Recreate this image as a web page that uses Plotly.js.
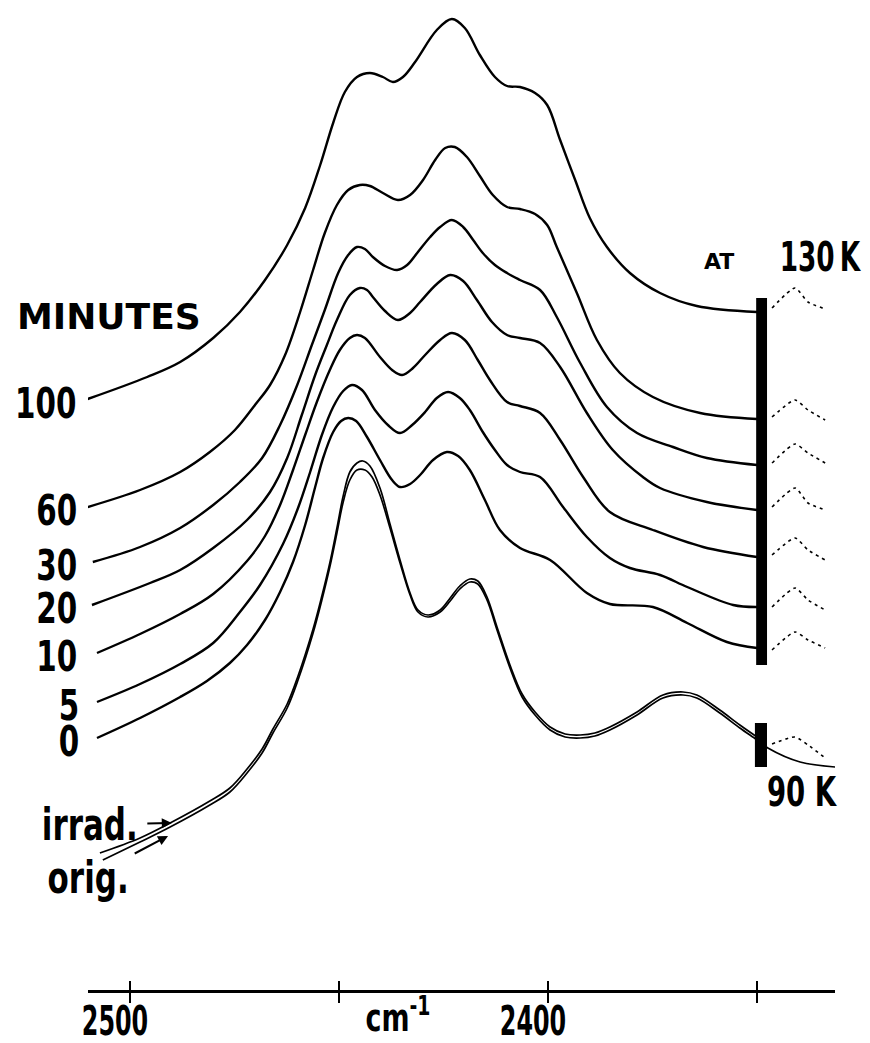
<!DOCTYPE html>
<html>
<head>
<meta charset="utf-8">
<script src="https://cdn.plot.ly/plotly-3.0.1.min.js"></script>
<style>html,body{margin:0;padding:0;background:#fff}</style>
</head>
<body>
<div id="chart" style="width:870px;height:1043px"></div>
<script>
// IR band of the irradiated sample, stacked spectra (cm^-1 vs. offset absorbance)
const wn100 = [2510.8, 2495.9, 2488.0, 2480.1, 2473.7, 2467.7, 2462.4, 2458.1, 2454.5, 2451.4, 2448.6, 2445.7, 2442.6, 2439.5, 2437.1, 2434.7, 2431.8, 2426.6, 2423.0, 2419.9, 2416.3, 2412.7, 2409.8, 2406.7, 2403.1, 2400.2, 2397.1, 2393.5, 2390.0, 2385.9, 2380.4, 2373.2, 2364.4, 2350.0];
const ab100 = [5.90, 6.13, 6.28, 6.52, 6.78, 7.10, 7.45, 7.82, 8.25, 8.67, 8.98, 9.13, 9.17, 9.13, 9.08, 9.13, 9.28, 9.60, 9.71, 9.62, 9.35, 9.13, 9.04, 9.03, 8.97, 8.85, 8.50, 8.10, 7.72, 7.43, 7.17, 6.97, 6.84, 6.78];

const wn60 = [2510.1, 2497.6, 2488.0, 2480.9, 2474.9, 2470.1, 2466.5, 2462.9, 2459.3, 2456.2, 2453.4, 2450.5, 2447.8, 2445.0, 2442.6, 2439.5, 2435.9, 2433.0, 2429.9, 2427.0, 2424.6, 2422.3, 2419.4, 2416.3, 2413.2, 2409.8, 2406.7, 2403.1, 2400.2, 2397.9, 2393.1, 2388.3, 2382.8, 2374.9, 2363.6, 2350.0];
const ab60 = [4.83, 5.00, 5.18, 5.38, 5.60, 5.85, 6.05, 6.35, 6.78, 7.20, 7.57, 7.85, 8.00, 8.05, 8.04, 7.97, 7.90, 7.95, 8.10, 8.30, 8.42, 8.43, 8.33, 8.14, 7.95, 7.83, 7.81, 7.76, 7.65, 7.43, 6.97, 6.50, 6.17, 5.93, 5.77, 5.71];

const wn30 = [2508.9, 2497.6, 2488.0, 2480.1, 2473.7, 2468.4, 2464.1, 2460.0, 2456.5, 2453.4, 2450.2, 2447.8, 2445.7, 2443.8, 2441.9, 2439.0, 2436.1, 2433.7, 2431.3, 2428.2, 2425.8, 2423.0, 2420.3, 2417.9, 2415.6, 2412.7, 2409.8, 2406.7, 2401.9, 2397.9, 2392.3, 2385.9, 2378.7, 2370.1, 2362.0, 2350.0];
const ab30 = [4.28, 4.43, 4.62, 4.85, 5.08, 5.32, 5.65, 6.05, 6.45, 6.80, 7.17, 7.35, 7.43, 7.41, 7.33, 7.24, 7.20, 7.25, 7.37, 7.53, 7.63, 7.70, 7.63, 7.50, 7.37, 7.25, 7.17, 7.10, 7.00, 6.73, 6.27, 5.83, 5.57, 5.43, 5.32, 5.25];

const wn20 = [2509.1, 2495.2, 2488.0, 2480.1, 2472.0, 2466.5, 2462.4, 2458.9, 2455.7, 2452.9, 2450.5, 2447.4, 2445.0, 2443.3, 2441.9, 2439.0, 2435.9, 2433.0, 2430.6, 2426.6, 2423.4, 2420.3, 2417.0, 2413.4, 2409.8, 2406.7, 2401.9, 2397.1, 2390.7, 2384.5, 2377.3, 2373.2, 2362.0, 2350.0];
const ab20 = [3.85, 4.07, 4.20, 4.42, 4.70, 4.98, 5.32, 5.75, 6.15, 6.45, 6.70, 6.95, 7.02, 7.00, 6.93, 6.79, 6.70, 6.77, 6.88, 7.06, 7.15, 7.09, 6.90, 6.68, 6.55, 6.52, 6.47, 6.23, 5.77, 5.40, 5.13, 5.02, 4.88, 4.80];

const wn10 = [2507.9, 2497.6, 2488.0, 2480.1, 2472.0, 2467.7, 2464.1, 2461.0, 2458.1, 2455.3, 2452.2, 2449.8, 2447.4, 2445.7, 2443.8, 2440.2, 2437.3, 2434.9, 2432.3, 2429.4, 2425.8, 2423.0, 2419.9, 2416.8, 2413.9, 2409.8, 2406.7, 2401.9, 2397.1, 2391.6, 2385.2, 2374.9, 2362.9, 2350.0];
const ab10 = [3.37, 3.56, 3.76, 3.96, 4.29, 4.54, 4.85, 5.20, 5.55, 5.88, 6.20, 6.40, 6.52, 6.55, 6.52, 6.33, 6.20, 6.15, 6.22, 6.35, 6.50, 6.57, 6.50, 6.30, 6.10, 5.88, 5.84, 5.77, 5.50, 5.13, 4.78, 4.60, 4.43, 4.33];

const wn5 = [2507.9, 2497.6, 2488.0, 2480.1, 2473.7, 2468.9, 2463.4, 2459.8, 2456.9, 2454.1, 2451.4, 2449.0, 2446.9, 2444.5, 2441.4, 2438.3, 2435.4, 2432.5, 2429.4, 2426.6, 2423.9, 2421.1, 2418.7, 2415.6, 2412.7, 2409.8, 2406.7, 2401.9, 2396.4, 2390.7, 2385.2, 2380.4, 2373.2, 2366.7, 2355.7, 2350.0];
const ab5 = [2.88, 3.06, 3.26, 3.47, 3.78, 4.05, 4.46, 4.82, 5.18, 5.55, 5.83, 5.99, 6.05, 6.00, 5.80, 5.65, 5.57, 5.65, 5.78, 5.92, 5.98, 5.92, 5.80, 5.58, 5.40, 5.25, 5.18, 5.13, 4.83, 4.53, 4.32, 4.22, 4.15, 4.03, 3.85, 3.83];

const wn0 = [2507.9, 2497.6, 2488.0, 2481.6, 2476.1, 2472.0, 2467.7, 2464.1, 2461.0, 2458.1, 2455.7, 2453.8, 2451.4, 2449.5, 2447.8, 2445.9, 2443.3, 2440.2, 2437.3, 2435.4, 2433.0, 2430.6, 2427.5, 2424.2, 2421.5, 2418.7, 2415.1, 2411.5, 2406.7, 2399.5, 2390.7, 2385.2, 2374.9, 2366.7, 2357.2, 2350.0];
const ab0 = [2.52, 2.72, 2.93, 3.09, 3.27, 3.45, 3.70, 3.98, 4.28, 4.65, 5.03, 5.32, 5.58, 5.69, 5.72, 5.69, 5.53, 5.30, 5.10, 5.03, 5.06, 5.15, 5.30, 5.38, 5.34, 5.20, 4.90, 4.60, 4.42, 4.30, 3.97, 3.86, 3.83, 3.67, 3.48, 3.42];

// 90 K spectra: original sample and after irradiation
const wnOrig = [2506.5, 2497.6, 2490.4, 2480.9, 2476.1, 2472.0, 2468.4, 2465.8, 2462.4, 2459.8, 2456.2, 2454.1, 2452.2, 2450.5, 2449.0, 2447.4, 2445.7, 2443.8, 2442.1, 2440.2, 2437.8, 2435.4, 2433.0, 2431.1, 2428.7, 2425.8, 2423.4, 2421.1, 2418.7, 2416.8, 2414.6, 2412.2, 2409.1, 2406.2, 2403.1, 2399.5, 2395.9, 2392.3, 2388.8, 2385.2, 2378.7, 2372.5, 2367.7, 2364.4, 2358.9, 2354.1, 2350.0, 2347.4, 2339.7, 2331.3];
const abOrig = [1.30, 1.48, 1.63, 1.85, 1.98, 2.17, 2.37, 2.57, 2.82, 3.10, 3.57, 3.90, 4.23, 4.57, 4.88, 5.10, 5.20, 5.20, 5.13, 4.95, 4.62, 4.27, 3.95, 3.78, 3.73, 3.78, 3.89, 4.01, 4.08, 4.06, 3.90, 3.60, 3.22, 2.93, 2.75, 2.60, 2.53, 2.52, 2.54, 2.60, 2.75, 2.92, 2.95, 2.92, 2.77, 2.62, 2.50, 2.42, 2.28, 2.23];

const wnIrrad = [2507.2, 2497.6, 2490.4, 2480.9, 2476.1, 2472.0, 2468.4, 2465.8, 2462.4, 2459.8, 2456.2, 2454.1, 2452.2, 2450.5, 2449.0, 2447.4, 2445.7, 2444.3, 2442.6, 2440.2, 2437.8, 2435.4, 2433.0, 2431.1, 2428.7, 2425.8, 2423.4, 2421.1, 2418.7, 2416.8, 2414.6, 2412.2, 2409.1, 2406.2, 2403.1, 2399.5, 2395.9, 2392.3, 2388.8, 2385.2, 2378.7, 2372.5, 2367.7, 2364.4, 2358.9, 2354.1, 2350.0];
const abIrrad = [1.37, 1.52, 1.67, 1.89, 2.02, 2.21, 2.41, 2.61, 2.86, 3.14, 3.61, 3.94, 4.27, 4.62, 4.94, 5.18, 5.27, 5.29, 5.24, 5.02, 4.66, 4.30, 3.97, 3.80, 3.75, 3.80, 3.92, 4.04, 4.11, 4.09, 3.93, 3.63, 3.25, 2.96, 2.78, 2.63, 2.56, 2.55, 2.57, 2.63, 2.78, 2.95, 2.98, 2.95, 2.80, 2.65, 2.53];

// dashed continuations beyond the chart-break markers
const tailWn = [2346.4, 2340.9, 2337.8, 2333.7];
const tail100 = [6.82, 7.02, 6.88, 6.81];
const tail60 = [5.73, 5.90, 5.80, 5.70];
const tail30 = [5.27, 5.46, 5.37, 5.27];
const tail20 = [4.83, 5.02, 4.87, 4.80];
const tail10 = [4.35, 4.52, 4.40, 4.30];
const tail5 = [3.83, 4.02, 3.90, 3.80];
const tail0 = [3.40, 3.58, 3.50, 3.42];
const tail90K = [2.46, 2.53, 2.45, 2.32];

// chart-break markers (cm^-1 span, absorbance span)
const break130Wn = [2350.2, 2347.6];
const break130Ab = [3.25, 6.92];
const break90Wn = [2350.5, 2347.6];
const break90Ab = [2.23, 2.67];

const minuteLabels = ['100', '60', '30', '20', '10', '5', '0'];
const majorTicks = [2500, 2400];
const majorText = ['2500', '2400'];
const minorTicks = [2450, 2350];
const allTicks = [2500, 2450, 2400, 2350];

const NARROW = '"DejaVu Sans Condensed", "Liberation Sans Narrow", "Arial Narrow", sans-serif';
const WIDE = '"DejaVu Sans", "Liberation Sans", sans-serif';

const spectra = [
  [wn100, ab100, tail100], [wn60, ab60, tail60], [wn30, ab30, tail30],
  [wn20, ab20, tail20], [wn10, ab10, tail10], [wn5, ab5, tail5], [wn0, ab0, tail0]
];

const solid = w => ({color: '#000', width: w, shape: 'spline', smoothing: 1});
const dashed = {color: '#000', width: 1.6, dash: '3px,4px', shape: 'spline', smoothing: 0.6};

const traces = [];
spectra.forEach(([wn, ab, tail]) => {
  traces.push({x: wn, y: ab, mode: 'lines', line: solid(2.4), hoverinfo: 'skip'});
  traces.push({x: tailWn, y: tail, mode: 'lines', line: dashed, hoverinfo: 'skip'});
});
traces.push({x: wnOrig, y: abOrig, mode: 'lines', line: solid(1.7), hoverinfo: 'skip'});
traces.push({x: wnIrrad, y: abIrrad, mode: 'lines', line: solid(1.7), hoverinfo: 'skip'});
traces.push({x: tailWn, y: tail90K, mode: 'lines', line: dashed, hoverinfo: 'skip'});
// carries the downward half of the tick marks
traces.push({x: [allTicks[0]], y: [0], xaxis: 'x2', mode: 'markers', marker: {opacity: 0}, hoverinfo: 'skip'});

// annotation index -> horizontal/vertical lettering scale
const narrowScale = new Map();
const annotations = [];
const label = (opts, scale) => {
  if (scale) narrowScale.set(annotations.length, scale);
  annotations.push(Object.assign({showarrow: false}, opts));
};

spectra.forEach(([wn, ab], i) => {
  label({text: '<b>' + minuteLabels[i] + '</b>', xref: 'paper', x: -0.0067, xanchor: 'right',
         yref: 'y', y: ab[0], yanchor: 'middle', yshift: -4, height: 36,
         font: {family: NARROW, size: 38, color: '#000'}}, [0.86, 1.1]);
});
label({text: '<b>MINUTES</b>', xref: 'paper', x: -0.098, xanchor: 'left', yref: 'y', y: 6.74, yanchor: 'middle',
       font: {family: WIDE, size: 36, color: '#000'}}, null);
label({text: '<b>AT</b>', xref: 'x', x: 2359.1, xanchor: 'center', yref: 'y', y: 7.29, yanchor: 'middle',
       font: {family: WIDE, size: 22, color: '#000'}}, null);
label({text: '<b>130\u2009K</b>', xref: 'x', x: 2334.9, xanchor: 'center', yref: 'y', y: 7.33, yanchor: 'middle',
       font: {family: NARROW, size: 34, color: '#000'}}, [0.86, 1.2]);
label({text: '<b>90 K</b>', xref: 'x', x: 2339.2, xanchor: 'center', yref: 'y', y: 1.98, yanchor: 'middle',
       font: {family: NARROW, size: 34, color: '#000'}}, [0.9, 1.2]);
label({text: '<b>cm<sup>-1</sup></b>', xref: 'x', x: 2435.9, xanchor: 'center', yref: 'paper', y: -0.026, yanchor: 'middle',
       font: {family: NARROW, size: 34, color: '#000'}}, [0.88, 1.12]);
label({text: '<b>irrad.</b>', xref: 'x', x: 2490.0, yref: 'y', y: 1.67, ax: -82, ay: 2,
       showarrow: true, arrowhead: 2, arrowsize: 1, arrowwidth: 2, arrowcolor: '#000', standoff: 0,
       font: {family: NARROW, size: 40, color: '#000'}}, [0.86, 1.1]);
label({text: '<b>orig.</b>', xref: 'x', x: 2490.9, yref: 'y', y: 1.54, ax: -80, ay: 42,
       showarrow: true, arrowhead: 2, arrowsize: 1, arrowwidth: 2, arrowcolor: '#000', standoff: 0,
       font: {family: NARROW, size: 40, color: '#000'}}, [0.86, 1.1]);

const shapes = [
  {type: 'rect', xref: 'x', yref: 'y', x0: break130Wn[0], x1: break130Wn[1], y0: break130Ab[0], y1: break130Ab[1],
   fillcolor: '#000', line: {width: 0}},
  {type: 'rect', xref: 'x', yref: 'y', x0: break90Wn[0], x1: break90Wn[1], y0: break90Ab[0], y1: break90Ab[1],
   fillcolor: '#000', line: {width: 0}}
];

const xRange = [2510.05, 2331.34];

const layout = {
  width: 870, height: 1043,
  margin: {l: 88, r: 35, t: 10, b: 53},
  paper_bgcolor: '#fff', plot_bgcolor: '#fff',
  showlegend: false,
  xaxis: {
    range: xRange, tickmode: 'array', tickvals: majorTicks, ticktext: majorText,
    ticks: 'inside', ticklen: 9, tickwidth: 2, tickcolor: '#000',
    minor: {tickmode: 'array', tickvals: minorTicks, ticks: 'inside', ticklen: 9, tickwidth: 2, tickcolor: '#000', showgrid: false},
    showline: true, linewidth: 2.5, linecolor: '#000',
    showgrid: false, zeroline: false,
    tickfont: {family: NARROW, size: 34, color: '#000', weight: 'bold'},
    ticklabelstandoff: 0, ticklabelshift: 15
  },
  xaxis2: {
    range: xRange, overlaying: 'x', anchor: 'y', side: 'bottom',
    tickmode: 'array', tickvals: allTicks, ticks: 'outside', ticklen: 12, tickwidth: 2, tickcolor: '#000',
    showticklabels: false, showline: false, showgrid: false, zeroline: false
  },
  yaxis: {range: [0, 9.8], visible: false, showgrid: false, zeroline: false},
  annotations: annotations,
  shapes: shapes
};

// tall, narrow lettering: scale a text element about its own centre,
// keeping any translate that the library put on it
function narrowText(t, sx, sy) {
  const tr = t.getAttribute('transform') || '';
  if (tr && !/^\s*translate\([^)]*\)\s*$/.test(tr)) return;
  const m = tr.match(/translate\(\s*([-\d.eE]+)(?:[\s,]+([-\d.eE]+))?\s*\)/);
  const tx = m ? parseFloat(m[1]) : 0;
  const ty = m && m[2] ? parseFloat(m[2]) : 0;
  t.style.transformBox = 'fill-box';
  t.style.transformOrigin = 'center';
  t.style.transform = `translate(${tx}px, ${ty}px) scale(${sx}, ${sy})`;
}

Plotly.newPlot('chart', traces, layout, {staticPlot: true, displayModeBar: false}).then(gd => {
  gd.querySelectorAll('.annotation').forEach(g => {
    const idx = Number(g.getAttribute('data-index'));
    const t = g.querySelector('.annotation-text');
    const s = narrowScale.get(idx);
    if (s && t) narrowText(t, s[0], s[1]);
  });
  gd.querySelectorAll('.xtick text').forEach(t => narrowText(t, 0.78, 1.18));
});
</script>
</body>
</html>
